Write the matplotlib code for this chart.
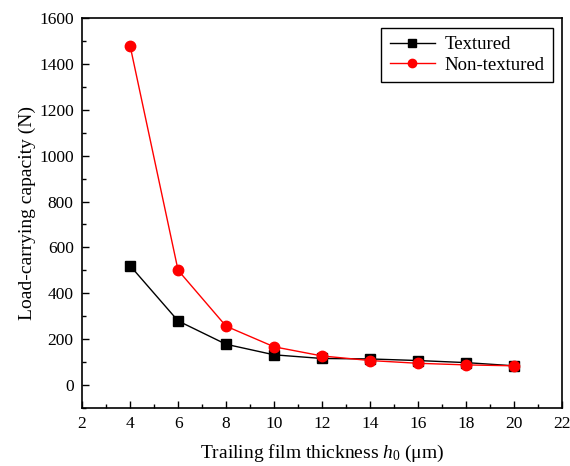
import numpy as np
import matplotlib.pyplot as plt
from matplotlib.ticker import MultipleLocator

plt.rcParams['font.family'] = ['Liberation Serif', 'DejaVu Serif']
plt.rcParams['mathtext.fontset'] = 'custom'
plt.rcParams['mathtext.it'] = 'Liberation Serif:italic'
plt.rcParams['mathtext.rm'] = 'Liberation Serif'

h0 = [4, 6, 8, 10, 12, 14, 16, 18, 20]
textured = [520, 279, 177, 131, 115, 113, 106, 97, 83]
non_textured = [1480, 500, 256, 166, 126, 106, 94, 87, 83]

fig = plt.figure(figsize=(5.7, 4.66), dpi=100)
ax = fig.add_axes([0.144, 0.125, 0.842, 0.836])

ax.plot(h0, textured, color='black', marker='s', markersize=6.5, lw=1,
        label='Textured')
ax.plot(h0, non_textured, color='red', marker='o', markersize=7.5, lw=1,
        label='Non-textured')

ax.set_xlim(2, 22)
ax.set_ylim(-100, 1600)
ax.xaxis.set_major_locator(MultipleLocator(2))
ax.xaxis.set_minor_locator(MultipleLocator(1))
ax.yaxis.set_major_locator(MultipleLocator(200))
ax.yaxis.set_minor_locator(MultipleLocator(100))
ax.tick_params(which='both', direction='in', top=False, right=False,
               labelsize=12.5, width=1, pad=6)
ax.tick_params(which='major', length=5)
ax.tick_params(which='minor', length=3)
for s in ax.spines.values():
    s.set_linewidth(1.2)

ax.set_xlabel(r'Trailing film thickness $h_0$ (μm)', fontsize=14, labelpad=8)
ax.set_ylabel('Load-carrying capacity (N)', fontsize=14, labelpad=2)

leg = ax.legend(loc='upper right', fontsize=13.5, fancybox=False,
                edgecolor='black', framealpha=1, borderaxespad=0.5,
                handlelength=2.4, labelspacing=0.2, markerscale=0.8,
                borderpad=0.45, handletextpad=0.5)
leg.get_frame().set_linewidth(1)

fig.savefig('out.png', dpi=100)
